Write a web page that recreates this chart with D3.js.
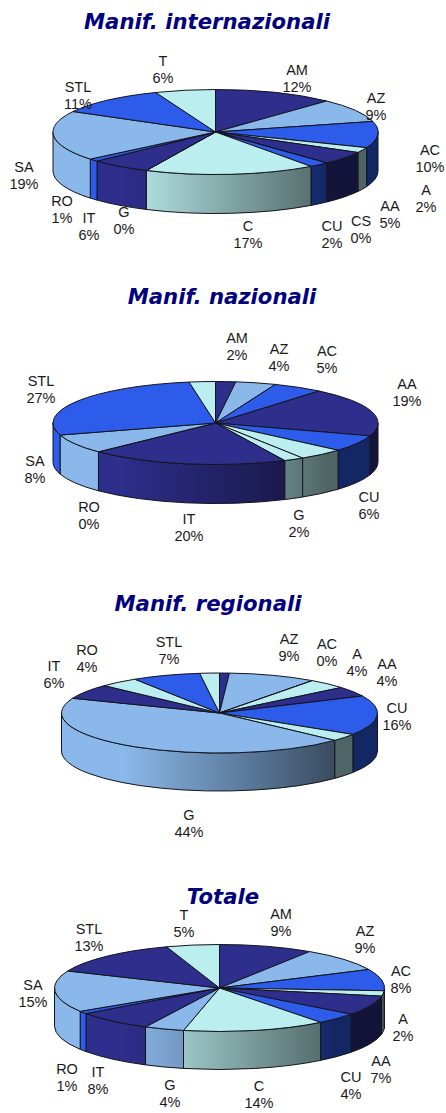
<!DOCTYPE html>
<html lang="it">
<head>
    <meta charset="UTF-8">
    <title>Manifestazioni</title>
    <script src="https://cdn.jsdelivr.net/npm/d3@7"></script>
    <style>
        html, body { margin: 0; padding: 0; background: #fff; }
        svg { display: block; }
    </style>
</head>
<body>
    <script>
        // dati
        var intCategories = ["AM", "AZ", "AC", "A", "AA", "CS", "CU", "C", "G", "IT", "RO", "SA", "STL", "T"];
        var intValues = [12, 9, 10, 2, 5, 0, 2, 17, 0, 6, 1, 19, 11, 6];

        var nazCategories = ["AM", "AZ", "AC", "AA", "CU", "C", "G", "IT", "RO", "SA", "STL", "T"];
        var nazValues = [2, 4, 5, 19, 6.4, 4.6, 2, 19.8, 0, 7.5, 27.1, 2.6];
        var nazHidden = ["C", "T"];

        var regCategories = ["AM", "AZ", "AC", "A", "AA", "CU", "C", "G", "IT", "RO", "STL", "T"];
        var regValues = [1, 9, 0, 4, 4, 16, 3, 44, 6, 4, 7, 2];
        var regHidden = ["AM", "C", "T"];

        var totCategories = ["AM", "AZ", "AC", "A", "AA", "CU", "C", "G", "IT", "RO", "SA", "STL", "T"];
        var totValues = [9.2, 8.8, 8, 2, 7.3, 4.2, 14, 3.9, 7.6, 1, 15.4, 13.4, 5.2];

        var width = 446;
        var height = 1113;

        var navy = "#2e2e8c", light = "#8ab8ea", blue = "#2d5ceb", cyan = "#bbeeee";
        var baseColor = {AM: navy, AZ: light, AC: blue, A: cyan, AA: navy, CS: light, CU: blue,
                         C: cyan, G: light, IT: navy, RO: blue, SA: light, STL: blue, T: cyan};

        // posizione delle etichette: centro x, linea di base della prima riga
        var intLabels = {T: [163, 66], AM: [297, 75], AZ: [376, 103], AC: [430, 155], A: [426, 195], AA: [390, 211],
                         CS: [361, 226], CU: [332, 231], C: [248, 231], G: [124, 217], IT: [89, 223], RO: [62, 206],
                         SA: [24, 172], STL: [78, 92]};
        var nazLabels = {AM: [237, 343], AZ: [279, 354], AC: [327, 356], AA: [407, 389], CU: [369, 502], G: [299, 520],
                         IT: [189, 524], RO: [89, 512], SA: [35, 466], STL: [41, 386]};
        var regLabels = {AZ: [289, 644], AC: [327, 649], A: [357, 659], AA: [387, 669], CU: [397, 713], G: [189, 820],
                         IT: [54, 671], RO: [87, 655], STL: [169, 647]};
        var totLabels = {T: [184, 920], AM: [281, 919], AZ: [365, 936], AC: [401, 976], A: [403, 1024], AA: [381, 1066],
                         CU: [351, 1082], C: [259, 1091], G: [170, 1090], IT: [98, 1077], RO: [67, 1074], SA: [33, 990],
                         STL: [89, 934]};

        var charts = [
            {title: "Manif. internazionali", tx: 207, ty: 29, cx: 215.5, cy: 132, rx: 162.5, ry: 42.5, depth: 39,
             categories: intCategories, values: intValues, hidden: [], labels: intLabels, colors: {}},
            {title: "Manif. nazionali", tx: 222, ty: 304, cx: 215.5, cy: 423, rx: 162.5, ry: 41.5, depth: 39,
             categories: nazCategories, values: nazValues, hidden: nazHidden, labels: nazLabels, colors: {G: cyan}},
            {title: "Manif. regionali", tx: 208, ty: 611, cx: 219.5, cy: 713, rx: 158, ry: 40, depth: 38,
             categories: regCategories, values: regValues, hidden: regHidden, labels: regLabels, colors: {RO: cyan}},
            {title: "Totale", tx: 223, ty: 904, cx: 219.5, cy: 988, rx: 165, ry: 43.5, depth: 38,
             categories: totCategories, values: totValues, hidden: [], labels: totLabels, colors: {STL: navy}}
        ];

        var svg = d3.select("body")
                .append("svg")
                .attr("width", width).attr("height", height);
        var defs = svg.append("defs");

        var pie = d3.pie().sort(null).startAngle(0).endAngle(2 * Math.PI);

        charts.forEach(drawChart);

        function drawChart(chart, chartIndex) {
            var g = svg.append("g");
            var slices = pie(chart.values);

            function colorOf(i) {
                var name = chart.categories[i];
                return chart.colors[name] || baseColor[name];
            }

            // gradiente orizzontale delle pareti, uguale per tutta la torta
            function gradientOf(color) {
                var id = "grad" + chartIndex + color.slice(1);
                if (defs.select("#" + id).empty()) {
                    var lg = defs.append("linearGradient").attr("id", id)
                            .attr("gradientUnits", "userSpaceOnUse")
                            .attr("x1", chart.cx - chart.rx).attr("x2", chart.cx + chart.rx)
                            .attr("y1", 0).attr("y2", 0);
                    lg.append("stop").attr("offset", 0.2).attr("stop-color", color);
                    lg.append("stop").attr("offset", 0.85).attr("stop-color", d3.rgb(color).darker(2.4));
                }
                return "url(#" + id + ")";
            }

            function px(a) { return chart.cx + chart.rx * Math.sin(a); }
            function py(a) { return chart.cy - chart.ry * Math.cos(a); }

            /* pareti: solo la metà anteriore */
            slices.forEach(function(d, i) {
                var a0 = Math.max(d.startAngle, Math.PI / 2);
                var a1 = Math.min(d.endAngle, 3 * Math.PI / 2);
                if (a1 <= a0) return;
                var path = "M" + px(a0) + "," + py(a0)
                        + "A" + chart.rx + "," + chart.ry + " 0 0 1 " + px(a1) + "," + py(a1)
                        + "L" + px(a1) + "," + (py(a1) + chart.depth)
                        + "A" + chart.rx + "," + chart.ry + " 0 0 0 " + px(a0) + "," + (py(a0) + chart.depth)
                        + "Z";
                g.append("path")
                        .attr("d", path)
                        .attr("fill", gradientOf(colorOf(i)))
                        .attr("stroke", "#14141e")
                        .attr("stroke-width", 1);
            });

            /* faccia superiore: d3.arc schiacciato sull'ellisse */
            var arc = d3.arc().innerRadius(0).outerRadius(chart.rx);
            g.append("g")
                    .attr("transform", "translate(" + chart.cx + "," + chart.cy + ") scale(1," + (chart.ry / chart.rx) + ")")
                    .selectAll("path")
                    .data(slices)
                    .enter()
                    .append("path")
                    .attr("d", arc)
                    .attr("fill", function(d, i) { return colorOf(i); })
                    .attr("stroke", "#14141e")
                    .attr("stroke-width", 1)
                    .attr("vector-effect", "non-scaling-stroke");

            /* titolo */
            g.append("text")
                    .attr("x", chart.tx).attr("y", chart.ty)
                    .attr("text-anchor", "middle")
                    .attr("font-family", "'DejaVu Sans', sans-serif")
                    .attr("font-weight", "bold").attr("font-style", "italic")
                    .attr("font-size", "21.2px")
                    .attr("fill", "#000080")
                    .text(chart.title);

            /* etichette */
            slices.forEach(function(d, i) {
                var name = chart.categories[i];
                if (chart.hidden.indexOf(name) >= 0) return;
                var pos = chart.labels[name];
                var label = g.append("text")
                        .attr("text-anchor", "middle")
                        .attr("font-family", "'Liberation Sans', Arial, sans-serif")
                        .attr("font-size", "14.5px")
                        .attr("fill", "#1a1a1a");
                label.append("tspan").attr("x", pos[0]).attr("y", pos[1]).text(name);
                label.append("tspan").attr("x", pos[0]).attr("y", pos[1] + 16.5)
                        .text(Math.round(d.data) + "%");
            });
        }
    </script>
</body>
</html>
